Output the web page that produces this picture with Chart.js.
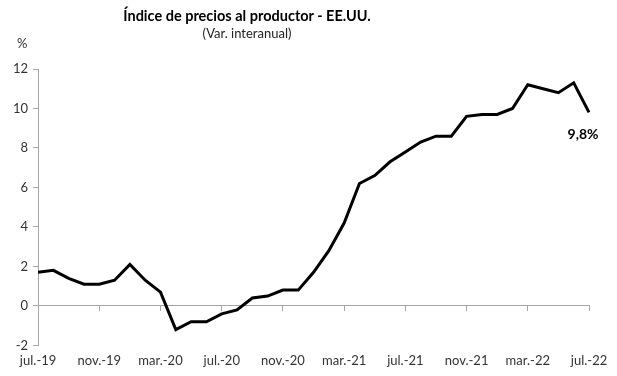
<!DOCTYPE html>
<html>
<head>
<meta charset="utf-8">
<script src="https://cdn.jsdelivr.net/npm/chart.js@4"></script>
<style>
  html, body { margin: 0; padding: 0; background: #fff; }
  #wrap { position: relative; width: 617px; height: 376px; }
  .titulo { position: absolute; left: 0; width: 494px; text-align: center; font-family: Lato, "Open Sans", sans-serif; color: #000; }
  #t1 { top: 7px; font-size: 14.5px; font-weight: bold; }
  #t2 { top: 25px; font-size: 13px; color: #222; }
  #pct { position: absolute; left: 17px; top: 35px; font-family: Lato, sans-serif; font-size: 13px; color: #333; }
</style>
</head>
<body>
<div id="wrap">
  <canvas id="grafica" width="617" height="376"></canvas>
  <div class="titulo" id="t1">Índice de precios al productor - EE.UU.</div>
  <div class="titulo" id="t2">(Var. interanual)</div>
  <div id="pct">%</div>
</div>
<script>
// Datos
const meses = [
  'jul.-19', 'ago.-19', 'sep.-19', 'oct.-19', 'nov.-19', 'dic.-19',
  'ene.-20', 'feb.-20', 'mar.-20', 'abr.-20', 'may.-20', 'jun.-20',
  'jul.-20', 'ago.-20', 'sep.-20', 'oct.-20', 'nov.-20', 'dic.-20',
  'ene.-21', 'feb.-21', 'mar.-21', 'abr.-21', 'may.-21', 'jun.-21',
  'jul.-21', 'ago.-21', 'sep.-21', 'oct.-21', 'nov.-21', 'dic.-21',
  'ene.-22', 'feb.-22', 'mar.-22', 'abr.-22', 'may.-22', 'jun.-22',
  'jul.-22'
];
const variacion = [
  1.7, 1.8, 1.4, 1.1, 1.1, 1.3,
  2.1, 1.3, 0.7, -1.2, -0.8, -0.8,
  -0.4, -0.2, 0.4, 0.5, 0.8, 0.8,
  1.7, 2.8, 4.2, 6.2, 6.6, 7.3,
  7.8, 8.3, 8.6, 8.6, 9.6, 9.7,
  9.7, 10.0, 11.2, 11.0, 10.8, 11.3,
  9.8
];
const ultimaEtiqueta = '9,8%';

const gris = '#a6a6a6';
const fuente = { family: 'Lato, "Open Sans", sans-serif', size: 13 };

// Etiqueta del último dato
const etiquetaFinal = {
  id: 'etiquetaFinal',
  afterDatasetsDraw(chart) {
    const meta = chart.getDatasetMeta(0);
    const p = meta.data[meta.data.length - 1];
    const ctx = chart.ctx;
    ctx.save();
    ctx.font = 'bold 14px Lato, "Open Sans", sans-serif';
    ctx.fillStyle = '#000';
    ctx.textAlign = 'center';
    ctx.textBaseline = 'middle';
    ctx.fillText(ultimaEtiqueta, p.x - 6, p.y + 22);
    ctx.restore();
  }
};

const ctx = document.getElementById('grafica').getContext('2d');
const grafica = new Chart(ctx, {
  type: 'line',
  data: {
    labels: meses,
    datasets: [{
      data: variacion,
      borderColor: '#000',
      borderWidth: 3,
      pointRadius: 0,
      tension: 0,
      xAxisID: 'x',
      yAxisID: 'y'
    }]
  },
  options: {
    responsive: false,
    animation: false,
    layout: { padding: { top: 69, left: 8, right: 28, bottom: 7 } },
    plugins: {
      legend: { display: false },
      tooltip: { enabled: false }
    },
    scales: {
      x: {
        position: 'bottom',
        grid: { display: false },
        border: { display: false },
        ticks: {
          autoSkip: false,
          maxRotation: 0,
          color: '#333',
          font: fuente,
          padding: 0,
          callback: (v, i) => (i % 4 === 0 ? meses[i] : '')
        }
      },
      x0: {
        type: 'category',
        position: { y: 0 },
        ticks: { display: false },
        border: { color: gris, width: 1 },
        grid: {
          drawOnChartArea: false,
          drawTicks: true,
          tickLength: 5,
          color: c => (c.index % 4 === 0 ? gris : 'rgba(0,0,0,0)')
        }
      },
      y: {
        min: -2,
        max: 12,
        ticks: { stepSize: 2, color: '#333', font: fuente, padding: 5 },
        border: { color: gris, width: 1 },
        grid: { drawOnChartArea: false, tickLength: 5, color: gris }
      }
    }
  },
  plugins: [etiquetaFinal]
});
</script>
</body>
</html>
